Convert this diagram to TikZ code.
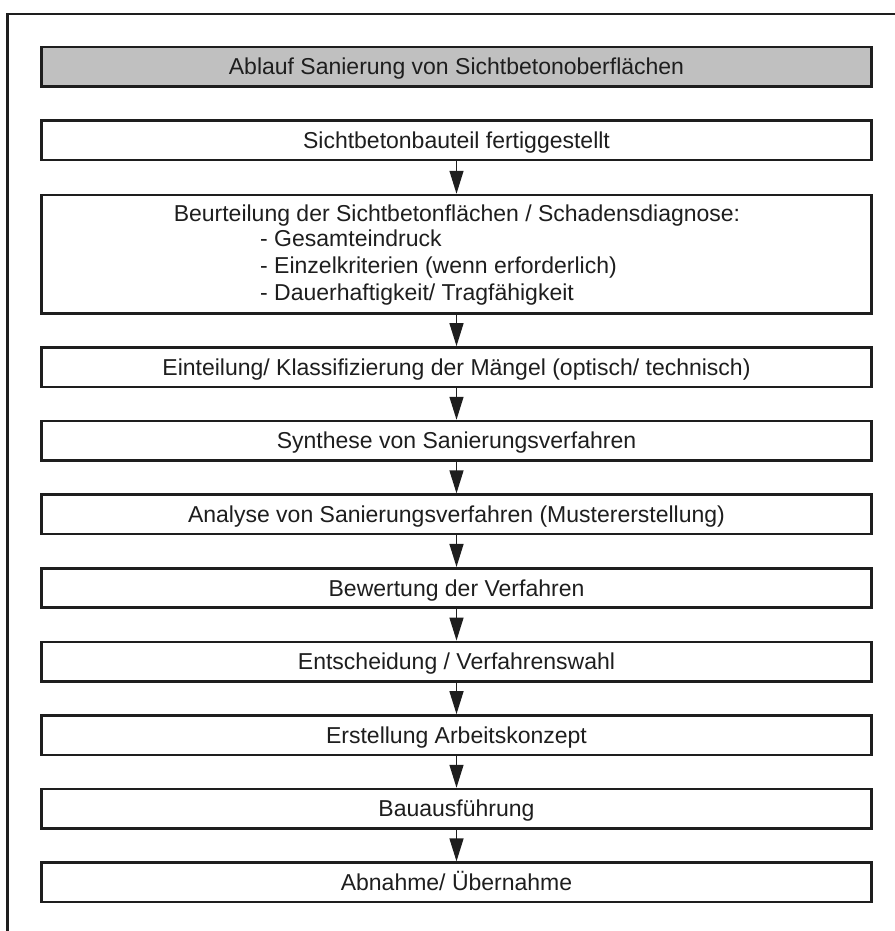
\documentclass[tikz,border=0pt]{standalone}
\usepackage{fontspec}
\setmainfont{Liberation Sans}
\usetikzlibrary{arrows.meta}
\definecolor{ink}{HTML}{1E1E1E}
\definecolor{headfill}{HTML}{C0C0C0}
\begin{document}
\begin{tikzpicture}[x=1pt,y=-1pt,
  box/.style={draw=ink, line width=2.6pt, fill=white, minimum width=830pt, minimum height=39.5pt, inner sep=0pt, text=ink, font=\fontsize{23}{27}\selectfont, text height=16pt, text depth=0pt},
  flow/.style={draw=ink, line width=1.3pt, -{Triangle[length=23pt,width=14pt]}},
  lbl/.style={text=ink, font=\fontsize{23}{27}\selectfont, inner sep=0pt, anchor=base west}]
\useasboundingbox (0,0) rectangle (894,931);
\fill[white] (0,0) rectangle (894,931);
\draw[ink, line width=2.7pt] (7.5,960) -- (7.5,14) -- (920,14);

\node[box, fill=headfill] (t) at (456.5,66.6) {Ablauf Sanierung von Sichtbetonoberflächen};
\node[box] (b1) at (456.5,140.2) {Sichtbetonbauteil fertiggestellt};
\node[box, minimum height=118.3pt] (b2) at (456.5,254.2) {};
\node[lbl, anchor=base] (b2h) at (457,221.7) {Beurteilung der Sichtbetonflächen / Schadensdiagnose:};
\node[lbl] (b2a) at (260,246.7) {- Gesamteindruck};
\node[lbl] (b2b) at (260,273.3) {- Einzelkriterien (wenn erforderlich)};
\node[lbl] (b2c) at (260,300) {- Dauerhaftigkeit/ Tragfähigkeit};
\node[box] (b3) at (456.5,367.2) {Einteilung/ Klassifizierung der Mängel (optisch/ technisch)};
\node[box] (b4) at (456.5,440.8) {Synthese von Sanierungsverfahren};
\node[box] (b5) at (456.5,514.4) {Analyse von Sanierungsverfahren (Mustererstellung)};
\node[box] (b6) at (456.5,588.0) {Bewertung der Verfahren};
\node[box] (b7) at (456.5,661.6) {Entscheidung / Verfahrenswahl};
\node[box] (b8) at (456.5,735.2) {Erstellung Arbeitskonzept};
\node[box] (b9) at (456.5,808.8) {Bauausführung};
\node[box] (b10) at (456.5,882.4) {Abnahme/ Übernahme};

\draw[flow] (b1) -- (b2);
\draw[flow] (b2) -- (b3);
\draw[flow] (b3) -- (b4);
\draw[flow] (b4) -- (b5);
\draw[flow] (b5) -- (b6);
\draw[flow] (b6) -- (b7);
\draw[flow] (b7) -- (b8);
\draw[flow] (b8) -- (b9);
\draw[flow] (b9) -- (b10);
\end{tikzpicture}
\end{document}
